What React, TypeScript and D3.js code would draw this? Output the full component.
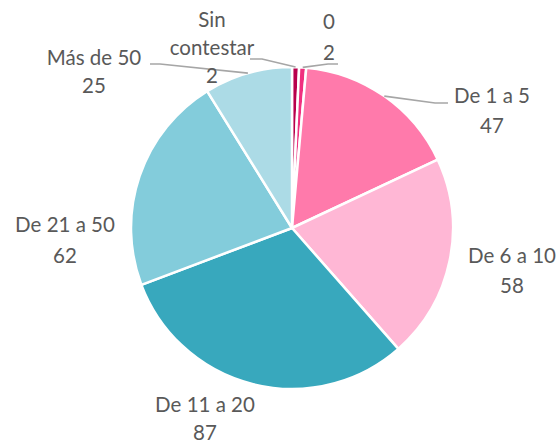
import React from 'react';
import * as d3 from 'd3';

// slices in drawing order, clockwise from 12 o'clock
const categories = ['Sin contestar', '0', 'De 1 a 5', 'De 6 a 10', 'De 11 a 20', 'De 21 a 50', 'Más de 50'];
const values = [2, 2, 47, 58, 87, 62, 25];
const colors = ['#b8004c', '#f0307f', '#ff7aab', '#ffb7d5', '#38a8bd', '#83ccdb', '#acdbe6'];

// label text lines (category may wrap)
const labelLines = [['Sin', 'contestar', '2'], ['0', '2'], ['De 1 a 5', '47'], ['De 6 a 10', '58'], ['De 11 a 20', '87'], ['De 21 a 50', '62'], ['Más de 50', '25']];

// label layout: center x, first baseline y, line step
const labelPos = [
  [212, 27, 28],
  [329, 29, 31],
  [492, 103, 30],
  [512, 263, 30],
  [205, 412, 28],
  [65, 232, 31],
  [94, 65, 28],
];
// leader bend points (null = no leader)
const leaderPts: (number[][] | null)[] = [
  [[262, 59], [250, 59]],
  [[328, 64], [338, 64]],
  [[435, 103], [448, 103]],
  null,
  null,
  null,
  [[160, 64], [150, 64]],
];

const W = 558;
const H = 443;
const cx = 292;
const cy = 228;
const R = 161;

export default function App() {
  const pie = d3.pie<number>().sort(null).value((d) => d)(values);
  const arc = d3.arc<d3.PieArcDatum<number>>().innerRadius(0).outerRadius(R);

  return (
    <div style={{ position: 'fixed', left: 0, top: 0 }}>
      <svg width={W} height={H} style={{ display: 'block', fontFamily: 'Lato, sans-serif' }}>
        <rect width={W} height={H} fill="#fff" />
        <g transform={`translate(${cx},${cy})`}>
          {pie.map((p, i) => (
            <path key={categories[i]} d={arc(p) || ''} fill={colors[i]} stroke="#fff" strokeWidth={2.5} strokeLinejoin="round" />
          ))}
        </g>
        {pie.map((p, i) => {
          const pts = leaderPts[i];
          if (!pts) return null;
          const mid = (p.startAngle + p.endAngle) / 2;
          const start = [cx + R * Math.sin(mid), cy - R * Math.cos(mid)];
          const line = d3.line()([start as [number, number], ...(pts as [number, number][])]);
          return <path key={'l' + i} d={line || ''} fill="none" stroke="#a6a6a6" strokeWidth={1.6} />;
        })}
        {labelLines.map((lines, i) => {
          const [x, y, step] = labelPos[i];
          return (
            <text key={'t' + i} textAnchor="middle" fontSize={20.5} fill="#595959">
              {lines.map((s, j) => (
                <tspan key={j} x={x} y={y + j * step}>
                  {s}
                </tspan>
              ))}
            </text>
          );
        })}
      </svg>
    </div>
  );
}
